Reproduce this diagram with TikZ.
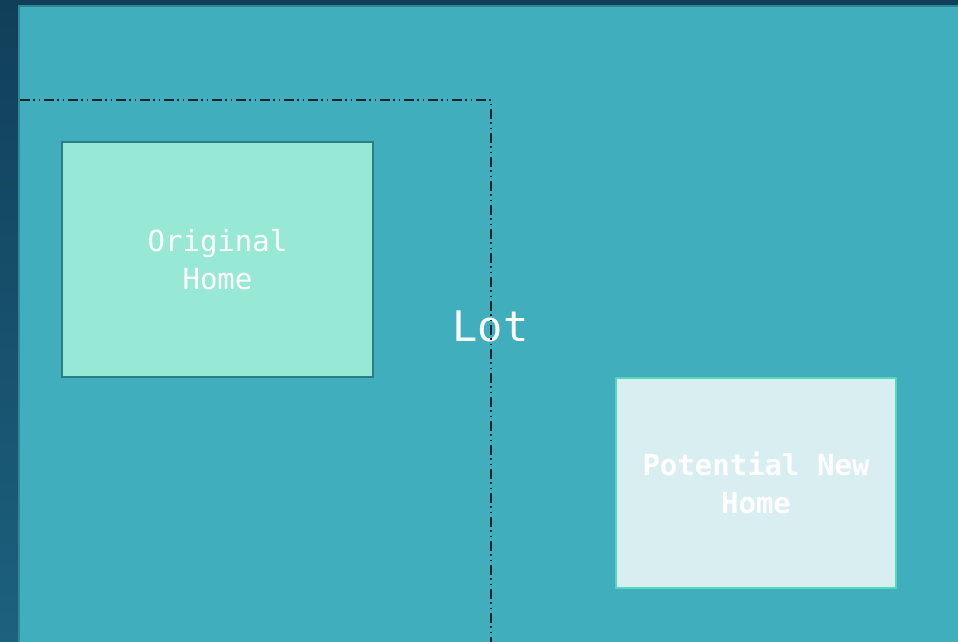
\documentclass[tikz,border=0pt]{standalone}
\usepackage{fontspec}
\newfontfamily\monofont{DejaVu Sans Mono}
\definecolor{deepbg}{HTML}{113F5A}
\definecolor{deepbgb}{HTML}{1C617E}
\definecolor{lotfill}{HTML}{41AEBD}
\definecolor{lotedge}{HTML}{2E8795}
\definecolor{origfill}{HTML}{98E8D6}
\definecolor{origedge}{HTML}{2A7C88}
\definecolor{newfill}{HTML}{D9EEF0}
\definecolor{newedge}{HTML}{52D9BC}
\definecolor{setback}{HTML}{12242A}
\tikzset{
  housebox/.style={draw, line width=2pt, align=center, text=white, inner sep=0pt,
    font=\monofont\fontsize{29}{38}\selectfont},
  setbackline/.style={draw=setback, line width=1.5pt,
    dash pattern=on 10pt off 3pt on 1.5pt off 4pt on 1.5pt off 4pt},
}
\begin{document}
\begin{tikzpicture}[x=1pt,y=-1pt]
\useasboundingbox (0,0) rectangle (958,642);
% backdrop
\shade[top color=deepbg, bottom color=deepbgb] (0,0) rectangle (958,642);
% the lot
\draw[fill=lotfill, draw=lotedge, line width=2pt] (19,6) rectangle (980,670);
% lot label
\node[text=white, font=\monofont\fontsize{42}{48}\selectfont, inner sep=0pt]
  (lot) at (490.5,326) {Lot};
% setback line, drawn over the label
\coordinate (sbstart) at (20,100);
\coordinate (sbcorner) at (491,100);
\coordinate (sbend) at (491,650);
\draw[setbackline] (sbstart) -- (sbcorner) -- (sbend);
% houses
\node[housebox, fill=origfill, draw=origedge, minimum width=311pt, minimum height=235pt]
  (orig) at (217.5,259.5) {Original\\Home};
\node[housebox, fill=newfill, draw=newedge, minimum width=280pt, minimum height=210pt,
  font=\monofont\bfseries\fontsize{29}{38}\selectfont]
  (new) at (756,483) {Potential New\\Home};
\end{tikzpicture}
\end{document}
